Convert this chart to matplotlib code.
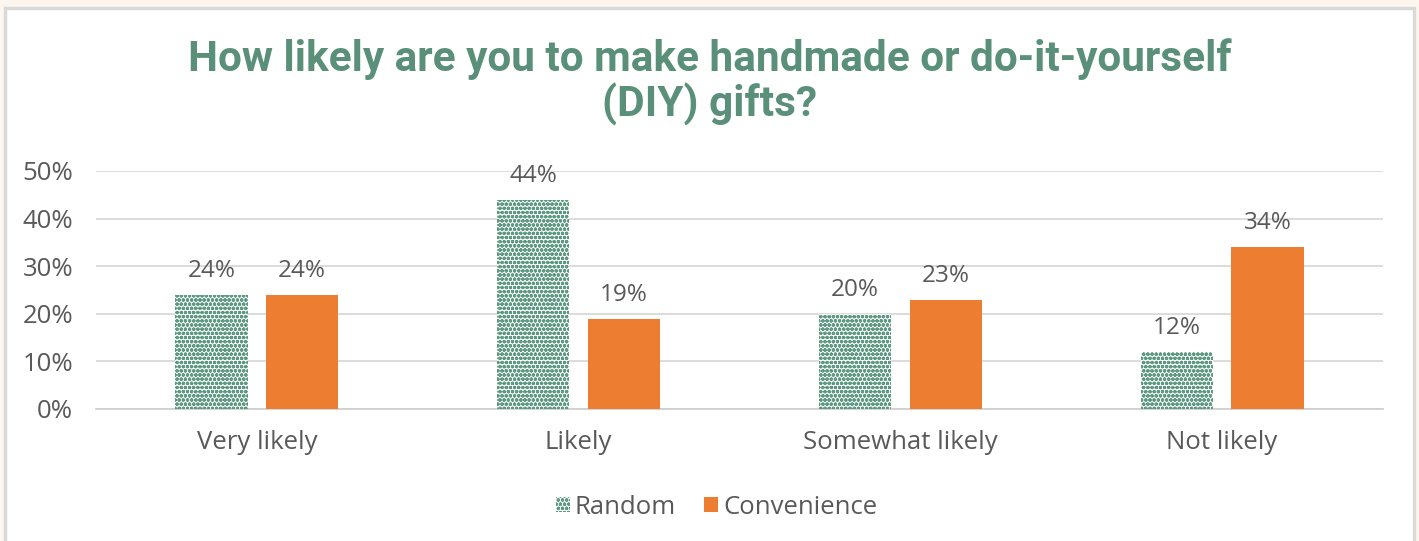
import matplotlib.pyplot as plt
import numpy as np
from matplotlib.patches import Rectangle

categories = ['Very likely', 'Likely', 'Somewhat likely', 'Not likely']
random_pct = [24, 44, 20, 12]
convenience_pct = [24, 19, 23, 34]
series_names = ['Random', 'Convenience']
yticks = [0, 10, 20, 30, 40, 50]

GREEN = '#5e9a82'
ORANGE = '#ed7d31'
TEXT = '#595959'
TITLE = '#5a9079'
BODY_FONT = ['Open Sans', 'DejaVu Sans']

plt.rcParams['font.family'] = ['Roboto', 'DejaVu Sans']
plt.rcParams['hatch.linewidth'] = 1.2

fig = plt.figure(figsize=(14.19, 5.41), dpi=100)
fig.patch.set_facecolor('#fcf6ee')

# white chart panel with a light grey frame
panel = Rectangle((5 / 1419, -0.02), 1409 / 1419, 1 - 8 / 541 + 0.02,
                  transform=fig.transFigure, facecolor='white',
                  edgecolor='#d9d9d9', linewidth=2.5, zorder=-10)
fig.patches.append(panel)

ax = fig.add_axes([96 / 1419, 1 - 409 / 541, 1287 / 1419, 238 / 541])
ax.set_facecolor('none')

x = np.arange(len(categories))
width = 0.224
offset = 0.141

b1 = ax.bar(x - offset, random_pct, width, facecolor='white', edgecolor=GREEN,
            hatch='oooo', linewidth=0, label=series_names[0], zorder=3)
b2 = ax.bar(x + offset, convenience_pct, width, color=ORANGE,
            label=series_names[1], zorder=3)

for bars, vals in ((b1, random_pct), (b2, convenience_pct)):
    for bar, v in zip(bars, vals):
        ax.text(bar.get_x() + bar.get_width() / 2, v + 2.5, f'{v}%',
                ha='center', va='bottom', fontsize=17.5, color=TEXT, family=BODY_FONT)

ax.set_xlim(-0.5, len(categories) - 0.5)
ax.set_ylim(0, 50)
ax.set_yticks(yticks)
ax.set_yticklabels([f'{t}%' for t in yticks])
ax.set_xticks(x)
ax.set_xticklabels(categories)
for lbl in ax.get_xticklabels() + ax.get_yticklabels():
    lbl.set_family(BODY_FONT)
ax.tick_params(axis='both', length=0, colors=TEXT)
ax.tick_params(axis='x', labelsize=18.5, pad=15)
ax.tick_params(axis='y', labelsize=18.5, pad=16.5)
ax.grid(axis='y', color='#d9d9d9', linewidth=1.3, zorder=0)
for s in ['top', 'right', 'left']:
    ax.spines[s].set_visible(False)
ax.spines['bottom'].set_color('#d0d0d0')
ax.spines['bottom'].set_linewidth(1.3)

fig.text(0.5, 1 - 82 / 541, 'How likely are you to make handmade or do-it-yourself\n(DIY) gifts?',
         ha='center', va='center', fontsize=30.5, fontweight='bold', color=TITLE,
         linespacing=1.1)

leg = fig.legend(handles=[b1, b2], loc='center', bbox_to_anchor=(0.505, 1 - 507 / 541),
                 ncol=2, frameon=False, prop={'family': BODY_FONT, 'size': 18.5},
                 handlelength=0.55, handleheight=0.55,
                 handletextpad=0.2, columnspacing=1.1)
for t in leg.get_texts():
    t.set_color(TEXT)

fig.savefig('out.png', dpi=100, facecolor=fig.get_facecolor())
